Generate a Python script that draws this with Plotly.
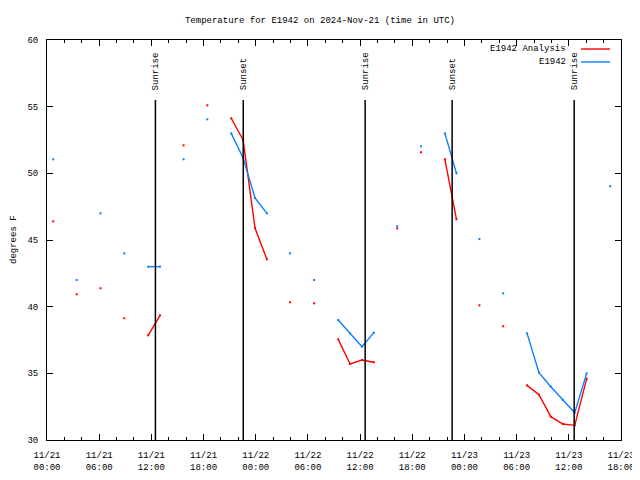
import plotly.graph_objects as go

# ---- data (None = gap in the record) ----
obs_times = ["2024-11-21 00:43", None, "2024-11-21 03:25", None, "2024-11-21 06:09", None,
             "2024-11-21 08:53", None, "2024-11-21 11:38", "2024-11-21 13:00", None,
             "2024-11-21 15:42", None, "2024-11-21 18:26", None,
             "2024-11-21 21:11", "2024-11-21 22:33", "2024-11-21 23:55", "2024-11-22 01:17", None,
             "2024-11-22 03:57", None, "2024-11-22 06:43", None,
             "2024-11-22 09:29", "2024-11-22 10:51", "2024-11-22 12:13", "2024-11-22 13:35", None,
             "2024-11-22 16:16", None, "2024-11-22 19:00", None,
             "2024-11-22 21:45", "2024-11-22 23:05", None,
             "2024-11-23 01:43", None, "2024-11-23 04:27", None,
             "2024-11-23 07:12", "2024-11-23 08:34", "2024-11-23 09:56", "2024-11-23 11:19",
             "2024-11-23 12:41", "2024-11-23 14:03", None,
             "2024-11-23 16:45"]
obs_temps = [51.05, None, 42.0, None, 47.0, None,
             44.0, None, 43.0, 43.0, None,
             51.05, None, 54.05, None,
             53.0, 51.15, 48.15, 47.0, None,
             44.0, None, 42.0, None,
             39.0, 38.0, 37.0, 38.05, None,
             46.03, None, 52.03, None,
             53.0, 50.0, None,
             45.07, None, 41.0, None,
             38.0, 35.05, 34.0, 33.0,
             32.05, 35.0, None,
             49.03]

ana_times = ["2024-11-21 00:43", None, "2024-11-21 03:25", None, "2024-11-21 06:09", None,
             "2024-11-21 08:53", None, "2024-11-21 11:38", "2024-11-21 13:00", None,
             "2024-11-21 15:42", None, "2024-11-21 18:26", None,
             "2024-11-21 21:11", "2024-11-21 22:33", "2024-11-21 23:55", "2024-11-22 01:17", None,
             "2024-11-22 03:57", None, "2024-11-22 06:43", None,
             "2024-11-22 09:29", "2024-11-22 10:51", "2024-11-22 12:13", "2024-11-22 13:35", None,
             "2024-11-22 16:16", None, "2024-11-22 19:00", None,
             "2024-11-22 21:45", "2024-11-22 23:05", None,
             "2024-11-23 01:43", None, "2024-11-23 04:27", None,
             "2024-11-23 07:12", "2024-11-23 08:34", "2024-11-23 09:56", "2024-11-23 11:19",
             "2024-11-23 12:41", "2024-11-23 14:03"]
ana_temps = [46.4, None, 40.93, None, 41.38, None,
             39.13, None, 37.85, 39.35, None,
             52.1, None, 55.1, None,
             54.13, 52.5, 45.9, 43.55, None,
             40.33, None, 40.25, None,
             37.55, 35.7, 36.0, 35.83, None,
             45.88, None, 51.58, None,
             51.05, 46.55, None,
             40.1, None, 38.53, None,
             34.1, 33.4, 31.75, 31.2,
             31.1, 34.6]

sun_times = ["2024-11-21 12:28", "2024-11-21 22:34", "2024-11-22 12:35",
             "2024-11-22 22:35", "2024-11-23 12:37"]
sun_labels = ["Sunrise", "Sunset", "Sunrise", "Sunset", "Sunrise"]

series_names = ["E1942 Analysis", "E1942"]
series_colors = ["#ff0000", "#0a80ff"]

FONT = "Liberation Mono"
FS = 9

# page offset (default body margin of the html page)
OFF = 8
W, H = 640 - OFF, 480 - OFF
# plot area in page pixels (as in the reference)
L, R, T, B = 47, 621, 40, 440

def px(xp):
    return (xp - L) / (R - L)

def py(yp):
    return (B - yp) / (B - T)

fig = go.Figure()
fig.add_trace(go.Scatter(x=ana_times, y=ana_temps, name=series_names[0],
                         mode="lines+markers", connectgaps=False,
                         line=dict(color=series_colors[0], width=1.4),
                         marker=dict(color=series_colors[0], size=2, symbol="square",
                                     line=dict(width=0))))
fig.add_trace(go.Scatter(x=obs_times, y=obs_temps, name=series_names[1],
                         mode="lines+markers", connectgaps=False,
                         line=dict(color=series_colors[1], width=1.4),
                         marker=dict(color=series_colors[1], size=2, symbol="square",
                                     line=dict(width=0))))

# sunrise / sunset markers
for t, lab in zip(sun_times, sun_labels):
    fig.add_shape(type="line", xref="x", yref="y domain", x0=t, x1=t, y0=0, y1=0.85,
                  line=dict(color="black", width=1.5))
    fig.add_annotation(x=t, xref="x", y=0.87, yref="y domain", text=lab,
                       textangle=-90, showarrow=False, xanchor="center", yanchor="bottom",
                       xshift=1, font=dict(family=FONT, size=FS, color="black"))

# manual gnuplot-style key (text left, sample right)
for i, (nm, col) in enumerate(zip(series_names, series_colors)):
    yy = 49 + 13 * i
    fig.add_annotation(x=px(568), y=py(yy), xref="paper", yref="paper", text=nm,
                       showarrow=False, xanchor="right", yanchor="middle",
                       font=dict(family=FONT, size=FS, color="black"))
    fig.add_shape(type="line", xref="paper", yref="paper", x0=px(581), x1=px(610),
                  y0=py(yy), y1=py(yy), line=dict(color=col, width=1.4))

# y-axis title
fig.add_annotation(x=px(14), y=0.5, xref="paper", yref="paper", text="degrees F",
                   textangle=-90, showarrow=False, xanchor="center", yanchor="middle",
                   borderpad=0,
                   font=dict(family=FONT, size=FS, color="black"))

fig.update_layout(
    width=W, height=H,
    margin=dict(l=L - OFF, r=W - (R - OFF), t=T - OFF, b=H - (B - OFF), autoexpand=False),
    paper_bgcolor="white", plot_bgcolor="white",
    showlegend=False,
    font=dict(family=FONT, size=FS, color="black"),
    title=dict(text="Temperature for E1942 on 2024-Nov-21 (time in UTC)",
               x=(320 - OFF) / W, xref="container", xanchor="center",
               y=1 - (20 - OFF) / H, yref="container", yanchor="middle",
               font=dict(family=FONT, size=FS, color="black")),
)
fig.update_xaxes(
    type="date", range=["2024-11-21 00:00", "2024-11-23 18:00"],
    dtick=6 * 3600 * 1000, tick0="2024-11-21 00:00",
    tickformat="%m/%d<br>%H:%M",
    ticks="inside", ticklen=6, tickcolor="black", tickwidth=1,
    minor=dict(dtick=2 * 3600 * 1000, ticks="inside", ticklen=3, tickcolor="black"),
    showline=True, linecolor="black", linewidth=1, mirror="ticks",
    showgrid=False, zeroline=False, automargin=False,
    ticklabelstandoff=6,
    tickfont=dict(family=FONT, size=FS, color="black"),
)
fig.update_yaxes(
    range=[30, 60], dtick=5, tick0=30,
    ticks="inside", ticklen=6, tickcolor="black", tickwidth=1,
    showline=True, linecolor="black", linewidth=1, mirror="ticks",
    showgrid=False, zeroline=False, automargin=False,
    ticklabelstandoff=6,
    tickfont=dict(family=FONT, size=FS, color="black"),
)

fig.write_html("out.html")
